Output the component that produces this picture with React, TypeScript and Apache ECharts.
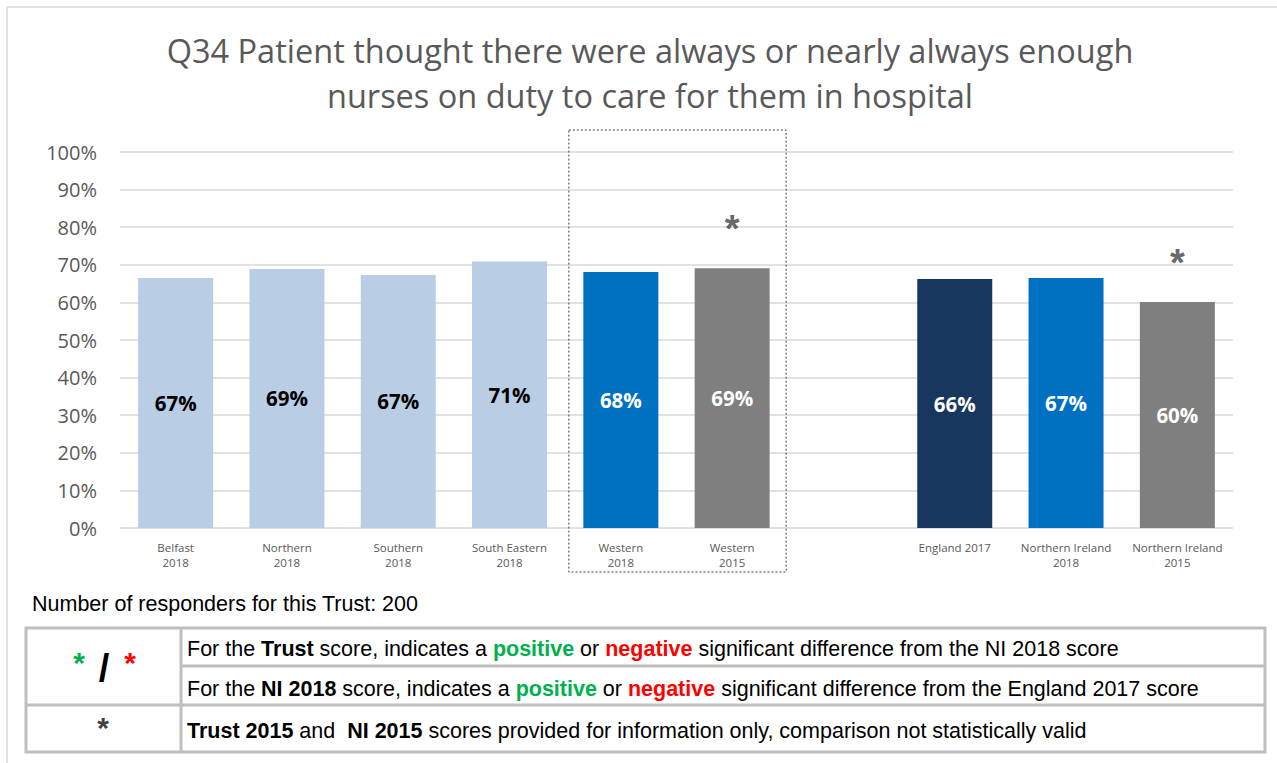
import React, { useEffect, useRef } from "react";
import * as echarts from "echarts";

const categories = [
  "Belfast\n2018",
  "Northern\n2018",
  "Southern\n2018",
  "South Eastern\n2018",
  "Western\n2018",
  "Western\n2015",
  "",
  "England 2017",
  "Northern Ireland\n2018",
  "Northern Ireland\n2015",
];
const values: (number | null)[] = [66.5, 68.9, 67.3, 70.9, 68.1, 69.1, null, 66.2, 66.5, 60.1];
const barColors = ["#b9cde5", "#b9cde5", "#b9cde5", "#b9cde5", "#0070c0", "#7f7f7f", "#ffffff", "#17375e", "#0070c0", "#7f7f7f"];
const labelColors = ["#000000", "#000000", "#000000", "#000000", "#ffffff", "#ffffff", "#ffffff", "#ffffff", "#ffffff", "#ffffff"];
const asteriskMarks = ["", "", "", "", "", "*", "", "", "", "*"];
const yTicks = { min: 0, max: 100, interval: 10 };

const titleText = "Q34 Patient thought there were always or nearly always enough\nnurses on duty to care for them in hospital";
const respondersText = "Number of responders for this Trust: 200";

const OPEN = "'Open Sans', Lato, sans-serif";
const ARIAL = "'Liberation Sans', Arial, sans-serif";

export default function App() {
  const ref = useRef<HTMLDivElement>(null);
  useEffect(() => {
    document.body.style.margin = "0";
    if (!ref.current) return;
    const chart = echarts.init(ref.current, null, { renderer: "svg" });
    const W = 1277;
    const gridLeft = 120;
    const gridRight = 44;
    const FS = 21.5;

    const rich = {
      b: { fontFamily: ARIAL, fontSize: FS, fontWeight: "bold" as const, fill: "#000" },
      g: { fontFamily: ARIAL, fontSize: FS, fontWeight: "bold" as const, fill: "#00b050" },
      r: { fontFamily: ARIAL, fontSize: FS, fontWeight: "bold" as const, fill: "#ff0000" },
      n: { fontFamily: ARIAL, fontSize: FS, fill: "#000" },
    };
    const lineStyle = { stroke: "#bfbfbf", lineWidth: 3 };

    const staticGraphic: any[] = [
      { type: "line", shape: { x1: 7, y1: 7, x2: W, y2: 7 }, style: { stroke: "#d9d9d9", lineWidth: 1.5 } },
      { type: "line", shape: { x1: 7, y1: 7, x2: 7, y2: 763 }, style: { stroke: "#d9d9d9", lineWidth: 1.5 } },
      {
        type: "text",
        x: 32,
        y: 604,
        style: { text: respondersText, fontFamily: ARIAL, fontSize: FS, fill: "#000", verticalAlign: "middle" },
      },
      { type: "rect", shape: { x: 26, y: 628, width: 1239, height: 124 }, style: { ...lineStyle, fill: "none" } },
      { type: "line", shape: { x1: 181, y1: 628, x2: 181, y2: 752 }, style: lineStyle },
      { type: "line", shape: { x1: 26, y1: 705, x2: 1265, y2: 705 }, style: lineStyle },
      { type: "line", shape: { x1: 181, y1: 666, x2: 1265, y2: 666 }, style: lineStyle },
      {
        type: "text",
        x: 187,
        y: 649,
        style: {
          text: "{n|For the }{b|Trust}{n| score, indicates a }{g|positive}{n| or }{r|negative}{n| significant difference from the NI 2018 score}",
          rich,
          verticalAlign: "middle",
        },
      },
      {
        type: "text",
        x: 187,
        y: 689,
        style: {
          text: "{n|For the }{b|NI 2018}{n| score, indicates a }{g|positive}{n| or }{r|negative}{n| significant difference from the England 2017 score}",
          rich,
          verticalAlign: "middle",
        },
      },
      {
        type: "text",
        x: 187,
        y: 731,
        style: {
          text: "{b|Trust 2015}{n| and  }{b|NI 2015}{n| scores provided for information only, comparison not statistically valid}",
          rich,
          verticalAlign: "middle",
        },
      },
      {
        type: "text",
        x: 79,
        y: 662,
        style: { text: "*", fontFamily: ARIAL, fontSize: 30, fontWeight: "bold", fill: "#00b050", align: "center", verticalAlign: "middle" },
      },
      {
        type: "text",
        x: 104,
        y: 668,
        style: { text: "/", fontFamily: ARIAL, fontSize: 38, fontWeight: "bold", fill: "#000", align: "center", verticalAlign: "middle" },
      },
      {
        type: "text",
        x: 130,
        y: 662,
        style: { text: "*", fontFamily: ARIAL, fontSize: 30, fontWeight: "bold", fill: "#ff0000", align: "center", verticalAlign: "middle" },
      },
      {
        type: "text",
        x: 103,
        y: 727,
        style: { text: "*", fontFamily: ARIAL, fontSize: 30, fontWeight: "bold", fill: "#404040", align: "center", verticalAlign: "middle" },
      },
    ];

    const option: any = {
      animation: false,
      backgroundColor: "#ffffff",
      title: {
        text: titleText,
        left: 645,
        top: 23,
        textAlign: "center",
        textStyle: { fontFamily: OPEN, fontSize: 32.5, fontWeight: "normal", color: "#595959", lineHeight: 45 },
      },
      grid: { left: gridLeft, right: gridRight, top: 152, bottom: 235, containLabel: false },
      xAxis: {
        type: "category",
        data: categories,
        axisLine: { show: false },
        axisTick: { show: false },
        axisLabel: {
          interval: 0,
          color: "#595959",
          fontFamily: OPEN,
          fontSize: 11.5,
          lineHeight: 15,
          margin: 12,
        },
      },
      yAxis: {
        type: "value",
        min: yTicks.min,
        max: yTicks.max,
        interval: yTicks.interval,
        axisLine: { show: false },
        axisTick: { show: false },
        axisLabel: { formatter: "{value}%", color: "#595959", fontFamily: OPEN, fontSize: 20, margin: 23 },
        splitLine: { lineStyle: { color: "#d9d9d9", width: 1.5 } },
      },
      series: [
        {
          type: "bar",
          barWidth: 75,
          data: values.map((v, i) => ({
            value: v,
            itemStyle: { color: barColors[i] },
            label: { color: labelColors[i] },
          })),
          label: {
            show: true,
            position: "inside",
            fontFamily: OPEN,
            fontSize: 20.5,
            fontWeight: "bold",
            formatter: (p: any) => (p.value == null ? "" : Math.round(p.value) + "%"),
          },
        },
        {
          type: "scatter",
          symbolSize: 0,
          silent: true,
          data: values.map((v, i) => (asteriskMarks[i] ? v : null)),
          label: {
            show: true,
            position: "top",
            distance: 20,
            formatter: (p: any) => asteriskMarks[p.dataIndex],
            fontFamily: ARIAL,
            fontSize: 38,
            fontWeight: "bold",
            color: "#404040",
          },
        },
      ],
      graphic: staticGraphic,
    };
    chart.setOption(option);

    const c4 = chart.convertToPixel({ xAxisIndex: 0 }, categories[4]) as number;
    const c5 = chart.convertToPixel({ xAxisIndex: 0 }, categories[5]) as number;
    chart.setOption({
      graphic: [
        ...staticGraphic,
        {
          type: "rect",
          shape: { x: c4 - 52, y: 130, width: c5 + 54 - (c4 - 52), height: 442 },
          style: { fill: "none", stroke: "#404040", lineWidth: 1, lineDash: [2, 2] },
          z: 10,
        },
      ],
    });

    return () => chart.dispose();
  }, []);
  return <div ref={ref} style={{ width: 1277, height: 763 }} />;
}
